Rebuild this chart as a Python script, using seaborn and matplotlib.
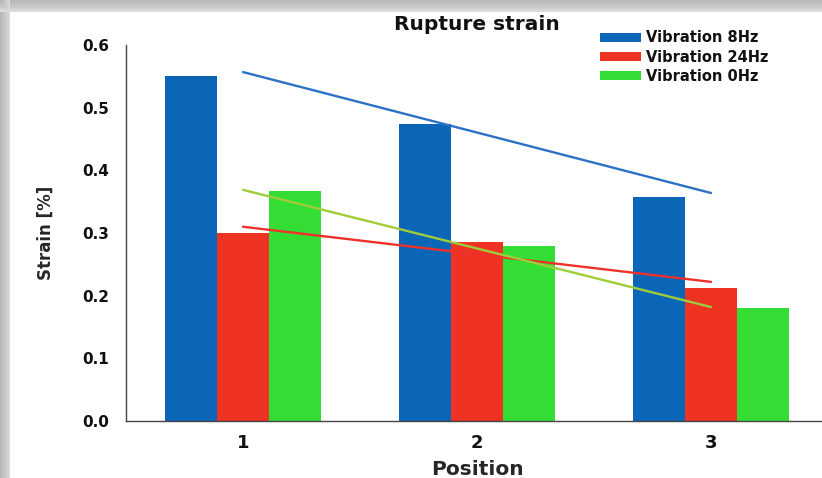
import numpy as np
import pandas as pd
import matplotlib
matplotlib.use("Agg")
import matplotlib.pyplot as plt
import seaborn as sns
from matplotlib.patches import Patch, Rectangle

positions = ["1", "2", "3"]
series = ["Vibration 8Hz", "Vibration 24Hz", "Vibration 0Hz"]
vib_8hz = [0.550, 0.474, 0.357]
vib_24hz = [0.300, 0.286, 0.212]
vib_0hz = [0.367, 0.279, 0.180]
yticks = [0.0, 0.1, 0.2, 0.3, 0.4, 0.5, 0.6]

bar_colors = ["#0b66b8", "#ee3322", "#33dd33"]
line_colors = ["#2b72c4", "#f0302a", "#9fcc3a"]

df = pd.DataFrame({
    "Position": positions * 3,
    "Series": [s for s in series for _ in positions],
    "Strain": vib_8hz + vib_24hz + vib_0hz,
})

sns.set_theme(style="white")
plt.rcParams["font.family"] = ["DejaVu Sans"]
plt.rcParams["font.weight"] = "bold"

W, H = 822, 478
fig = plt.figure(figsize=(W / 100, H / 100), dpi=100)
fig.patch.set_facecolor("white")

# shadow bands along top and left edges of the card
shades = ["#b8b8b8", "#bebebe", "#c4c4c4", "#cacaca", "#d2d2d2", "#dcdcdc"]
for i, c in enumerate(shades):
    fig.patches.append(Rectangle((0, 1 - (i * 2 + 2) / H), 1, 2 / H,
                                 transform=fig.transFigure, facecolor=c,
                                 edgecolor="none", zorder=-5))
    fig.patches.append(Rectangle(((i * 1.7) / W, 0), 1.7 / W, 1,
                                 transform=fig.transFigure, facecolor=c,
                                 edgecolor="none", zorder=-5))

ax = fig.add_axes([126 / W, 57 / H, 702 / W, 376 / H])
ax.set_facecolor("none")

sns.barplot(data=df, x="Position", y="Strain", hue="Series", hue_order=series,
            order=positions, palette=bar_colors, width=0.667, gap=0,
            saturation=1, errorbar=None, legend=False, ax=ax, zorder=2,
            linewidth=0, edgecolor="none")

xs = np.arange(len(positions))
for vals, col in zip([vib_8hz, vib_24hz, vib_0hz], line_colors):
    m, b = np.polyfit(xs, vals, 1)
    ax.plot([xs[0], xs[-1]], [m * xs[0] + b, m * xs[-1] + b], color=col, lw=1.7, zorder=3)

ax.set_xlim(-0.5, 2.5)
ax.set_ylim(0, 0.6)
ax.set_yticks(yticks)
ax.set_yticklabels([f"{v:.1f}" for v in yticks], fontsize=11, fontweight="bold")
ax.set_xticks(xs)
ax.set_xticklabels(positions, fontsize=13, fontweight="bold")
ax.set_xticks([0.5, 1.5], minor=True)
ax.tick_params(axis="x", which="major", length=0, pad=9)
ax.tick_params(axis="x", which="minor", length=5, direction="out", color="#444444", width=1)
ax.tick_params(axis="y", which="major", length=5, direction="out", color="#444444", width=1, pad=7)
ax.tick_params(colors="#111111")
for s in ["top", "right"]:
    ax.spines[s].set_visible(False)
for s in ["left", "bottom"]:
    ax.spines[s].set_color("#444444")
    ax.spines[s].set_linewidth(1)
ax.set_xlabel("Position", fontsize=14.5, fontweight="bold", labelpad=6)
ax.set_ylabel("Strain [%]", fontsize=12, fontweight="bold", labelpad=20)
ax.grid(False)

fig.text(477 / W, 1 - 25 / H, "Rupture strain", ha="center", va="center",
         fontsize=14.5, fontweight="bold", color="#111111")

handles = [Patch(facecolor=c, edgecolor="none") for c in bar_colors]
leg = fig.legend(handles, series, loc="upper left", bbox_to_anchor=(593 / W, 1 - 23 / H),
                 frameon=False, borderpad=0, handlelength=2.8, handleheight=0.58,
                 handletextpad=0.35, labelspacing=0.3,
                 prop={"size": 10.5, "weight": "bold"})
for t in leg.get_texts():
    t.set_color("#111111")

fig.savefig("out.png", dpi=100)
